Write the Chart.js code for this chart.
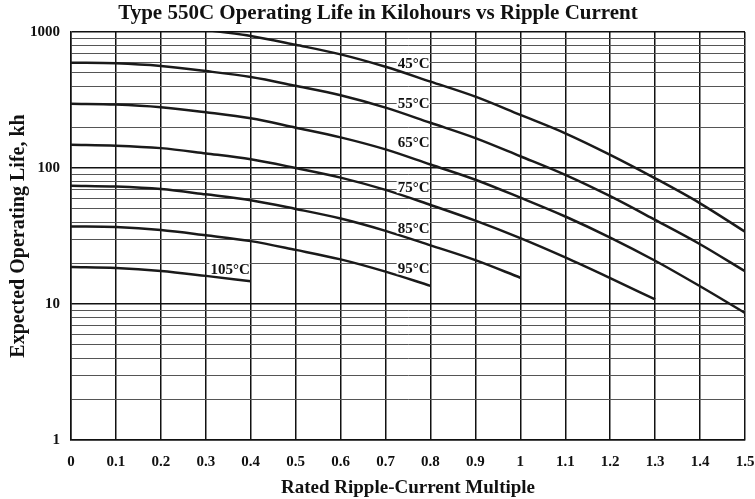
<!DOCTYPE html>
<html>
<head>
<meta charset="utf-8">
<script src="https://cdn.jsdelivr.net/npm/chart.js@4.4.0/dist/chart.umd.min.js"></script>
<style>
  html, body { margin: 0; padding: 0; background: #fff; }
</style>
</head>
<body>
<canvas id="lifeChart" width="755" height="499"></canvas>
<script>
// ripple-current multiple (x) and life in kilohours per case temperature
const rippleMultiples = [0, 0.1, 0.2, 0.3, 0.4, 0.5, 0.6, 0.7, 0.8, 0.9, 1.0, 1.1, 1.2, 1.3, 1.4, 1.5];
const temps = ['45°C', '55°C', '65°C', '75°C', '85°C', '95°C', '105°C'];

const life45 = [1190, 1175, 1125, 1035, 935, 805, 685, 555, 432, 335, 246, 180, 125, 84, 55, 34];
const life55 = [595, 588, 562, 516, 466, 402, 343, 278, 215, 166, 122, 89, 62, 41.5, 27.5, 17.4];
const life65 = [297, 293, 280, 257, 232, 198, 168, 137, 106, 82, 60.5, 44, 30.8, 20.8, 13.5, 8.6];
const life75 = [148, 146, 140, 128, 116, 100, 85, 69, 53.5, 41, 30.5, 22, 15.5, 10.8];
const life85 = [74, 73, 70, 64, 58, 50, 42.5, 34.5, 27, 21, 15.6];
const life95 = [37.2, 36.8, 35, 32, 29, 25, 21.3, 17.3, 13.6];
const life105 = [18.7, 18.4, 17.5, 16.1, 14.7];

const yMajorTicks = [1, 10, 100, 1000];
const yMinorTicks = [2, 3, 4, 5, 6, 7, 8, 9, 20, 30, 40, 50, 60, 70, 80, 90, 200, 300, 400, 500, 600, 700, 800, 900];

// where each curve name sits (right edge x, value)
const labelAnchors = [[0.8, 595], [0.8, 302], [0.8, 154], [0.8, 72.3], [0.8, 36.4], [0.8, 18.3], [0.4, 18.1]];

const serif = '"Liberation Serif", "Times New Roman", serif';
Chart.defaults.font.family = serif;
Chart.defaults.font.weight = 'bold';
Chart.defaults.color = '#111';

const seriesList = [life45, life55, life65, life75, life85, life95, life105];

const curveNames = {
    id: 'curveNames',
    afterDatasetsDraw(chart) {
        const { ctx, scales: { x, y } } = chart;
        ctx.save();
        ctx.font = 'bold 15px ' + serif;
        ctx.textAlign = 'right';
        ctx.textBaseline = 'middle';
        temps.forEach((t, i) => {
            const px = x.getPixelForValue(labelAnchors[i][0]) - 1;
            const py = y.getPixelForValue(labelAnchors[i][1]);
            const w = ctx.measureText(t).width;
            ctx.fillStyle = '#fff';
            ctx.fillRect(px - w - 1, py - 6, w + 1, 12);
            ctx.fillStyle = '#111';
            ctx.fillText(t, px, py + 1);
        });
        ctx.restore();
    }
};

const chartTitle = {
    id: 'chartTitle',
    afterDraw(chart) {
        const { ctx } = chart;
        ctx.save();
        ctx.font = 'bold 21px ' + serif;
        ctx.textAlign = 'center';
        ctx.textBaseline = 'middle';
        ctx.fillStyle = '#111';
        ctx.fillText('Type 550C Operating Life in Kilohours vs Ripple Current', 378, 14);
        ctx.restore();
    }
};

new Chart(document.getElementById('lifeChart'), {
    type: 'line',
    data: {
        datasets: seriesList.map((s, i) => ({
            label: temps[i],
            data: s.map((v, j) => ({ x: rippleMultiples[j], y: v })),
            borderColor: '#1a1a1a',
            borderWidth: 2.5,
            pointRadius: 0,
            cubicInterpolationMode: 'monotone',
            fill: false,
        })),
    },
    options: {
        responsive: false,
        animation: false,
        devicePixelRatio: 1,
        layout: { padding: { top: 32, right: 10, left: 0, bottom: 0 } },
        plugins: {
            legend: { display: false },
            tooltip: { enabled: false },
        },
        scales: {
            x: {
                type: 'linear',
                min: 0,
                max: 1.5,
                afterBuildTicks(scale) {
                    scale.ticks = rippleMultiples.map(v => ({ value: v }));
                },
                afterFit(scale) {
                    scale.height = 59;
                    scale.paddingLeft = 0;
                    scale.paddingRight = 0;
                },
                grid: { color: '#111', lineWidth: 1.5, drawTicks: false },
                border: { color: '#111', width: 1.5 },
                ticks: {
                    padding: 13,
                    autoSkip: false,
                    maxRotation: 0,
                    font: { size: 15 },
                    callback: v => String(Math.round(v * 10) / 10),
                },
                title: {
                    display: true,
                    text: 'Rated Ripple-Current Multiple',
                    font: { size: 19 },
                    padding: { top: 0, bottom: 0 },
                },
            },
            y: {
                type: 'logarithmic',
                min: 1,
                max: 1000,
                afterBuildTicks(scale) {
                    scale.ticks = yMajorTicks.concat(yMinorTicks)
                        .sort((a, b) => a - b)
                        .map(v => ({ value: v, major: yMajorTicks.includes(v) }));
                },
                afterFit(scale) { scale.width = 71; },
                grid: {
                    drawTicks: false,
                    color: c => (c.tick && yMajorTicks.includes(c.tick.value) ? '#111' : '#555'),
                    lineWidth: c => (c.tick && yMajorTicks.includes(c.tick.value) ? 1.5 : 1),
                },
                border: { color: '#111', width: 1.5 },
                ticks: {
                    padding: 11,
                    autoSkip: false,
                    font: { size: 15 },
                    callback: v => (yMajorTicks.includes(v) ? String(v) : ''),
                },
                title: {
                    display: true,
                    text: 'Expected Operating Life, kh',
                    font: { size: 20 },
                    padding: { top: 7, bottom: 0 },
                },
            },
        },
    },
    plugins: [curveNames, chartTitle],
});
</script>
</body>
</html>
